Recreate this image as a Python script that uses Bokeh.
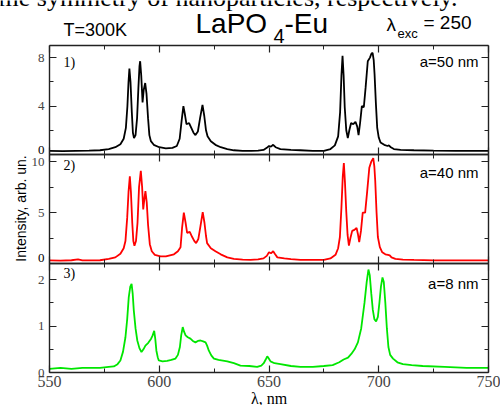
import math
from bokeh.plotting import figure
from bokeh.models import Range1d, FixedTicker, LinearAxis, Label
from bokeh.embed import file_html
from bokeh.resources import INLINE

# ---------------- data ----------------
x_ticks = [550, 600, 650, 700, 750]
x_minor = [575, 625, 675, 725]

# panel 1: a=50 nm (black)
lam1 = [550, 556, 562, 568, 573, 577, 580, 582.3, 583.8, 584.8, 585.5, 586.0, 586.4, 586.9,
        587.5, 588.0, 588.5, 589.2, 589.9, 590.5, 591.0, 591.3, 591.8, 592.4, 592.9, 593.6,
        594.2, 594.9, 595.5, 596.2, 597.5, 600, 603, 606, 608, 609.3, 610.2, 611.0, 611.7,
        612.4, 613.6, 614.6, 615.6, 616.5, 617.6, 618.6, 619.7, 620.5, 621.3, 622.0, 623.5,
        625.6, 628, 631, 634, 638, 642, 645, 647.5, 649, 650, 650.9, 651.9, 653, 655.2, 660,
        664.3, 670, 675, 678, 680, 681.5, 682.4, 683.0, 683.5, 684.0, 684.5, 685.2, 685.9,
        686.6, 687.4, 688.4, 689.4, 690.2, 690.8, 691.5, 692.3, 693.2, 694.0, 695.0, 696.0,
        696.6, 697.2, 697.7, 698.1, 698.7, 699.3, 700.0, 700.8, 702.5, 704.0, 704.6, 705.5,
        706.9, 710, 716, 725, 735, 750]
int1 = [0.30, 0.28, 0.30, 0.32, 0.35, 0.45, 0.6, 0.85, 1.3, 2.2, 4.0, 6.0, 7.1, 6.0,
        3.5, 1.8, 1.35, 1.6, 3.0, 5.5, 7.3, 7.7, 6.5, 4.3, 5.3, 5.9,
        5.0, 3.0, 1.6, 1.1, 0.8, 0.6, 0.5, 0.55, 0.7, 1.3, 2.8, 4.0, 3.3,
        2.5, 2.6, 2.2, 1.8, 1.6, 1.9, 3.0, 4.1, 3.2, 2.0, 1.5, 1.1,
        0.8, 0.6, 0.45, 0.35, 0.3, 0.3, 0.32, 0.38, 0.55, 0.7, 0.65, 0.8, 0.6, 0.45, 0.38,
        0.35, 0.3, 0.3, 0.45, 0.75, 1.5, 3.5, 6.5, 8.15, 6.5, 3.9, 2.0, 1.35,
        2.0, 2.6, 2.5, 2.7, 2.3, 1.6, 2.6, 4.0, 3.9, 5.5, 7.7, 8.0,
        8.3, 8.4, 7.8, 6.6, 4.2, 2.2, 1.4, 1.0, 0.8, 0.7, 0.75, 0.6,
        0.45, 0.38, 0.35, 0.32, 0.3, 0.3]

# panel 2: a=40 nm (red)
lam2 = [550, 555, 560, 563, 565, 570, 573, 577, 580, 582.3, 583.8, 584.6, 585.4, 586.0, 586.6,
        587.1, 587.7, 588.2, 588.7, 589.4, 590.1, 590.8, 591.6, 592.2, 592.7, 593.2, 593.7,
        594.3, 594.9, 595.7, 596.6, 598, 600.6, 603, 606.7, 608.5, 609.7, 610.4, 611.2, 612.0,
        612.7, 613.9, 615.0, 616.0, 616.8, 617.8, 618.8, 619.8, 620.6, 621.3, 621.8, 623.5,
        625.6, 628, 631, 634, 638, 641.6, 645, 647.5, 649, 650, 650.9, 651.9, 652.8, 653.8,
        657, 660, 664.3, 670, 675, 678, 680.3, 681.5, 682.3, 683.0, 683.6, 684.1, 684.6, 685.2,
        685.8, 686.4, 687.1, 687.9, 688.9, 689.9, 690.5, 691.1, 691.9, 692.7, 693.8, 694.7,
        695.7, 696.6, 697.5, 698.0, 698.4, 699.0, 699.6, 700.5, 701.6, 703, 704.2, 705.0,
        705.8, 707.6, 711, 716, 725, 735, 750]
int2 = [0.30, 0.28, 0.32, 0.4, 0.3, 0.3, 0.32, 0.45, 0.6, 0.95, 1.5, 2.2, 4.5, 7.0, 8.55,
        7.0, 4.0, 2.2, 1.75, 2.2, 4.0, 7.5, 9.1, 7.5, 5.3, 6.3, 7.1,
        6.0, 3.8, 1.9, 1.2, 0.85, 0.7, 0.7, 0.9, 1.2, 1.6, 3.5, 5.0, 4.0,
        3.0, 3.1, 2.6, 2.2, 2.0, 2.4, 3.7, 5.05, 4.0, 2.7, 2.0, 1.5,
        1.2, 0.9, 0.6, 0.45, 0.38, 0.35, 0.4, 0.5, 0.75, 1.1, 1.0, 1.2, 0.9, 0.6,
        0.5, 0.42, 0.35, 0.35, 0.35, 0.5, 0.85, 1.5, 2.6, 5.5, 8.5, 9.85, 8.0, 5.1,
        2.8, 1.75, 2.5, 3.2, 3.3, 3.5, 2.9, 2.1, 3.2, 5.0, 5.0, 7.0,
        9.4, 10.0, 10.35, 9.5, 8.1, 5.0, 2.6, 1.6, 1.1, 0.9, 0.85, 0.8,
        0.6, 0.45, 0.38, 0.35, 0.3, 0.3, 0.3]

# panel 3: a=8 nm (green)
lam3 = [550, 555, 560, 565, 570, 573, 577, 579.3, 581, 582.3, 583.5, 584.6, 585.4, 586.1, 586.8,
        587.4, 587.9, 588.4, 589.2, 590.0, 591.0, 591.9, 592.8, 593.7, 595.0, 596.3, 597.0,
        597.7, 598.2, 598.7, 599.3, 599.8, 601.5, 603.6, 605.5, 607.4, 608.5, 609.4, 610.0,
        610.7, 611.3, 612.0, 613.0, 614.2, 615.3, 616.5, 617.6, 618.8, 620.0, 621.1, 621.8,
        622.6, 623.7, 624.9, 627, 631, 634, 637, 641, 644.6, 646.5, 647.6, 648.5, 649.2,
        649.9, 650.7, 652.5, 655.2, 660, 664.3, 670, 675, 679, 682, 684, 686, 687.5, 689,
        690.5, 692, 693.5, 694.5, 695.3, 695.9, 696.6, 697.3, 698.0, 698.8, 699.6, 700.3,
        701.0, 701.7, 702.3, 703.0, 703.7, 704.4, 705.2, 706.5, 708.5, 711, 715, 720, 730,
        740, 750]
int3 = [0.08, 0.10, 0.08, 0.10, 0.10, 0.10, 0.12, 0.13, 0.18, 0.26, 0.45, 0.76, 1.15, 1.62, 1.85,
        1.91, 1.7, 1.34, 0.95, 0.69, 0.52, 0.44, 0.5, 0.58, 0.64, 0.73, 0.8,
        0.9, 0.72, 0.47, 0.33, 0.26, 0.24, 0.25, 0.27, 0.3, 0.38, 0.55, 0.8,
        0.98, 0.88, 0.8, 0.76, 0.73, 0.68, 0.65, 0.68, 0.69, 0.67, 0.65, 0.58,
        0.47, 0.37, 0.3, 0.27, 0.24, 0.2, 0.15, 0.14, 0.12, 0.15, 0.2, 0.28, 0.35,
        0.3, 0.24, 0.2, 0.18, 0.14, 0.12, 0.12, 0.14, 0.16, 0.22, 0.28, 0.32, 0.4, 0.5,
        0.65, 0.95, 1.5, 1.95, 2.22, 2.1, 1.7, 1.35, 1.15, 1.1, 1.2, 1.5,
        1.85, 2.05, 1.95, 1.5, 0.95, 0.55, 0.38, 0.3, 0.22, 0.18, 0.16, 0.14, 0.12,
        0.10, 0.10]

series_colors = ["black", "#ff0000", "#00e600"]
panel_numbers = ["1)", "2)", "3)"]
size_labels = ["a=50 nm", "a=40 nm", "a=8 nm"]
y_max = [9.0, 10.7, 2.35]
y_ticks = [[4, 8], [5, 10], [0, 1, 2]]
y_minor = [[2, 6], [2.5, 7.5], [0.5, 1.5]]

# ---------------- layout constants (page pixels) ----------------
W, H = 500, 405
X0_PX = 49                 # page x of 550 nm
PX_PER_NM = 439 / 200.0    # 550..750 nm over 439 px
PANEL_H = 109
PANEL_BOTTOMS = [154, 263, 372]   # page y of each panel's zero line
SERIF = "Liberation Serif"
SANS = "Liberation Sans"
INK = "#222222"


def nm_at(px):
    return 550 + (px - X0_PX) / PX_PER_NM


p = figure(frame_width=W, frame_height=H, min_border=0, title=None,
           x_range=Range1d(nm_at(0), nm_at(W)), y_range=Range1d(H, 0),
           x_axis_location=None, y_axis_location=None,
           output_backend="svg", toolbar_location=None)
p.grid.visible = False
p.outline_line_color = None
p.background_fill_color = "white"
p.border_fill_color = "white"


def panel_range(bottom_px, ymax):
    span = ymax * H / PANEL_H
    start = -(H - bottom_px) * ymax / PANEL_H
    return Range1d(start, start + span)


def style_axis(ax, labels):
    ax.axis_line_color = INK
    ax.axis_line_width = 1.4
    ax.major_tick_in = 7
    ax.major_tick_out = 0
    ax.minor_tick_in = 4
    ax.minor_tick_out = 0
    ax.major_tick_line_color = INK
    ax.minor_tick_line_color = INK
    ax.major_tick_line_width = 1.2
    ax.minor_tick_line_width = 1.0
    if not labels:
        ax.major_label_text_font_size = "0px"
        ax.major_label_standoff = 0


series = [(lam1, int1), (lam2, int2), (lam3, int3)]
for i, (lam, inten) in enumerate(series):
    name = f"p{i + 1}"
    ymax = y_max[i]
    p.extra_y_ranges[name] = panel_range(PANEL_BOTTOMS[i], ymax)

    p.line(x=lam, y=inten, y_range_name=name, line_color=series_colors[i], line_width=1.8)

    # left axis with tick labels
    la = LinearAxis(y_range_name=name, fixed_location=550, bounds=(0, ymax),
                    ticker=FixedTicker(ticks=y_ticks[i], minor_ticks=y_minor[i]))
    style_axis(la, True)
    la.major_label_text_font = SERIF
    la.major_label_text_font_size = "13px"
    la.major_label_standoff = 5
    p.add_layout(la, "left")
    # right axis (ticks only)
    ra = LinearAxis(y_range_name=name, fixed_location=750, bounds=(0, ymax),
                    ticker=FixedTicker(ticks=y_ticks[i], minor_ticks=y_minor[i]))
    style_axis(ra, False)
    p.add_layout(ra, "right")
    # top axis (ticks only)
    ta = LinearAxis(y_range_name=name, fixed_location=ymax, bounds=(550, 750),
                    ticker=FixedTicker(ticks=x_ticks, minor_ticks=x_minor))
    style_axis(ta, False)
    p.add_layout(ta, "above")
    # bottom axis (labels on the last panel only)
    ba = LinearAxis(y_range_name=name, fixed_location=0, bounds=(550, 750),
                    ticker=FixedTicker(ticks=x_ticks, minor_ticks=x_minor))
    style_axis(ba, i == 2)
    if i == 2:
        ba.major_label_text_font = SERIF
        ba.major_label_text_font_size = "16px"
        ba.major_label_standoff = 3
    p.add_layout(ba, "below")


def label(x_px, y_px, text, font, size, align="left", angle=0.0):
    # y_px is the page y of the text's vertical middle
    p.add_layout(Label(x=nm_at(x_px), y=y_px, text=text, text_font=font,
                       text_font_size=size, text_align=align, text_baseline="middle",
                       angle=angle, text_color="black"))


# zeros sitting just above the boundaries between panels
label(44, 149, "0", SERIF, "13px", align="right")
label(44, 257, "0", SERIF, "13px", align="right")

# panel numbers and particle sizes
num_y = [62, 165, 273]
size_y = [61, 172, 283]
for i in range(3):
    label(63, num_y[i], panel_numbers[i], SERIF, "14px")
    label(478, size_y[i], size_labels[i], SANS, "15px", align="right")

# axis titles
label(20, 208, "Intensity, arb. un.", SANS, "14px", align="center", angle=math.pi / 2)
label(268.5, 398, "λ, nm", SERIF, "16px", align="center")

# header
label(-2, -3, "me symmetry of nanoparticles, respectively.", SERIF, "26px")
label(63, 29, "T=300K", SANS, "18px")
label(195, 23, "LaPO", SANS, "28px")
label(273, 35.5, "4", SANS, "20px")
label(284, 23, "-Eu", SANS, "28px")
label(386, 24, "λ", SANS, "19px")
label(397, 32.5, "exc", SANS, "13px")
label(423, 21.5, "= 250", SANS, "19px")

open("out.html", "w").write(file_html(p, INLINE))
